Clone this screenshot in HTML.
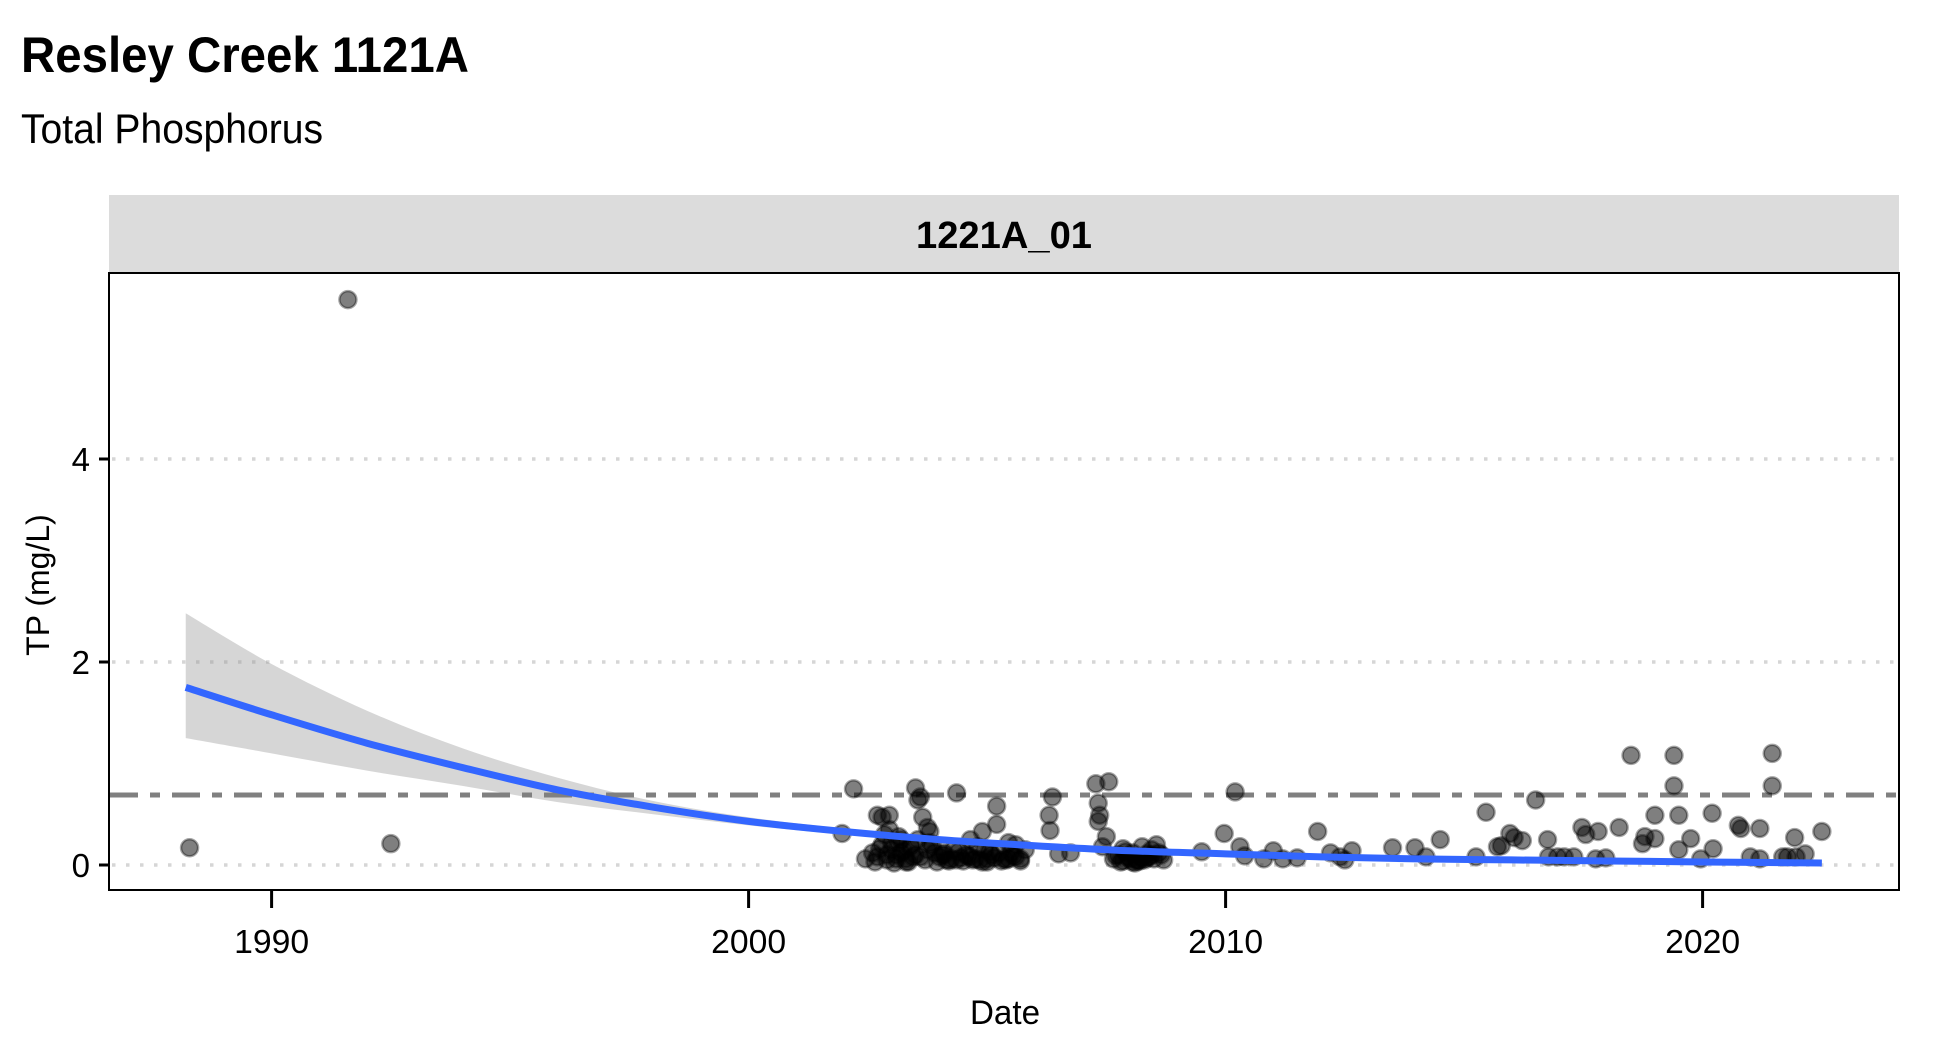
<!DOCTYPE html>
<html><head><meta charset="utf-8"><style>
html,body{margin:0;padding:0;background:#fff;}
svg{display:block;}
text{font-family:"Liberation Sans",sans-serif;}
</style></head>
<body>
<svg id="chart" width="1950" height="1050" viewBox="0 0 1950 1050">
<text x="21" y="72" font-size="50" font-weight="bold" textLength="448" lengthAdjust="spacingAndGlyphs">Resley Creek 1121A</text>
<text x="21" y="143" font-size="42" textLength="302" lengthAdjust="spacingAndGlyphs">Total Phosphorus</text>
<rect x="109" y="195" width="1790" height="78" fill="#dcdcdc"/>
<text x="1004" y="248" font-size="38" font-weight="bold" text-anchor="middle" textLength="176" lengthAdjust="spacingAndGlyphs">1221A_01</text>
<g id="grid"></g>
<g id="band"></g>
<g id="ref"></g>
<g id="pts"></g>
<g id="fit"></g>
<rect x="109" y="273" width="1790" height="617" fill="none" stroke="#000" stroke-width="2"/>
<g id="axes"></g>
<text x="1005" y="1024" font-size="34" text-anchor="middle" textLength="70" lengthAdjust="spacingAndGlyphs">Date</text>
<text transform="translate(49,585) rotate(-90)" font-size="32" text-anchor="middle">TP (mg/L)</text>
</svg>
<script>
const xTicks=[1990,2000,2010,2020];
const yTicks=[0,2,4];
const refValue=0.69;
const ptYears=[1988.28,1991.6,1992.5,2001.96,2002.2,2002.45,2002.7,2002.8,2002.95,2003.5,2003.6,2003.55,2003.65,2003.75,2003.8,2004.36,2004.65,2004.9,2005.2,2005.2,2004.95,2005.45,2006.37,2006.3,2006.32,2006.5,2006.75,2007.28,2007.33,2007.36,2007.33,2007.55,2007.5,2007.42,
2002.6,2002.7,2002.8,2002.9,2003.0,2003.1,2003.2,2003.3,2003.4,2003.5,2003.7,2003.85,2004.0,2004.1,2004.2,2004.3,2004.45,2004.55,2004.7,2004.8,2005.0,2005.1,2005.3,2005.5,2005.6,2005.7,2005.8,2002.85,2003.05,2003.25,2003.45,2003.9,2004.15,2004.6,2005.05,2005.35,2003.15,2003.35,2004.05,2004.75,2005.6,
2002.65,2002.75,2002.9,2003.0,2003.1,2003.2,2003.3,2003.4,2003.6,2003.75,2003.95,2004.1,2004.25,2004.4,2004.5,2004.65,2004.85,2005.0,2005.15,2005.25,2005.4,2005.55,2005.7,2002.95,2003.15,2003.55,2003.8,2004.35,2004.9,2005.45,
2007.65,2007.75,2007.85,2007.95,2008.05,2008.15,2008.25,2008.35,2008.45,2008.55,2008.65,2007.8,2008.0,2008.2,2008.4,2008.6,2008.1,2008.3,2007.7,2007.9,2008.05,2008.25,2008.45,2008.7,2007.85,2008.15,2008.35,2008.5,
2009.5,2009.97,2010.2,2010.3,2010.4,2010.8,2011.0,2011.2,2011.5,2011.93,2012.2,2012.4,2012.5,2012.65,2013.5,2013.97,2014.2,2014.5,2015.25,2015.46,2015.7,2015.78,2015.96,2016.05,2016.22,2016.5,2016.75,2016.77,2016.96,2017.1,2017.3,2017.47,2017.55,2017.76,2017.81,2017.97,2018.25,2018.5,2018.74,2018.79,2019.0,2019.0,2019.4,2019.4,2019.5,2019.5,2019.75,2019.96,2020.2,2020.22,2020.75,2020.8,2021.0,2021.2,2021.2,2021.46,2021.46,2021.68,2021.78,2021.93,2021.96,2022.15,2022.5];
const ptValues=[0.17,5.57,0.21,0.31,0.75,0.06,0.49,0.47,0.49,0.76,0.67,0.64,0.47,0.37,0.33,0.71,0.25,0.33,0.58,0.40,0.15,0.22,0.67,0.49,0.34,0.11,0.12,0.80,0.61,0.49,0.43,0.82,0.28,0.18,
0.12,0.08,0.2,0.05,0.15,0.1,0.25,0.06,0.18,0.1,0.05,0.2,0.08,0.12,0.04,0.15,0.07,0.1,0.05,0.18,0.06,0.1,0.04,0.12,0.08,0.06,0.15,0.3,0.02,0.14,0.08,0.12,0.05,0.09,0.13,0.06,0.22,0.03,0.1,0.06,0.2,
0.03,0.16,0.1,0.22,0.06,0.12,0.03,0.2,0.08,0.15,0.03,0.1,0.06,0.13,0.04,0.08,0.05,0.03,0.07,0.12,0.05,0.09,0.04,0.35,0.28,0.25,0.22,0.05,0.03,0.06,
0.06,0.1,0.04,0.08,0.12,0.05,0.18,0.07,0.15,0.2,0.1,0.03,0.06,0.04,0.08,0.12,0.02,0.05,0.09,0.13,0.03,0.07,0.1,0.05,0.16,0.04,0.11,0.06,
0.13,0.31,0.72,0.18,0.09,0.06,0.14,0.06,0.07,0.33,0.12,0.08,0.05,0.14,0.17,0.17,0.08,0.25,0.08,0.52,0.18,0.19,0.31,0.27,0.24,0.64,0.25,0.08,0.08,0.08,0.08,0.37,0.3,0.06,0.33,0.07,0.37,1.08,0.21,0.28,0.49,0.26,1.08,0.78,0.49,0.15,0.26,0.06,0.51,0.16,0.39,0.36,0.08,0.06,0.36,1.10,0.78,0.08,0.08,0.27,0.08,0.11,0.33];
const fitYears=[1988.2,1990,1992,1994,1996,1998,2000,2002,2004,2006,2008,2010,2012,2014,2016,2018,2020,2022.5];
const fitValues=[1.75,1.48,1.20,0.96,0.74,0.57,0.43,0.33,0.25,0.19,0.14,0.11,0.08,0.06,0.05,0.04,0.03,0.02];
const bandUpper=[2.48,1.98,1.52,1.15,0.86,0.63,0.47,0.36,0.27,0.21,0.16,0.13,0.10,0.08,0.07,0.06,0.05,0.05];
const bandLower=[1.25,1.10,0.93,0.78,0.62,0.50,0.39,0.30,0.23,0.17,0.12,0.09,0.06,0.04,0.03,0.02,0.01,0.00];

const NS='http://www.w3.org/2000/svg';
const xS=y=>271.6+(y-1990)*47.7;
const yS=v=>865-v*101.5;
function mk(tag,attrs,parent){const e=document.createElementNS(NS,tag);for(const k in attrs)e.setAttribute(k,attrs[k]);document.getElementById(parent).appendChild(e);return e;}
function smooth(pts,start){
  let d=start?'M'+pts[0][0]+','+pts[0][1]:'L'+pts[0][0]+','+pts[0][1];
  for(let i=0;i<pts.length-1;i++){
    const p0=pts[Math.max(0,i-1)],p1=pts[i],p2=pts[i+1],p3=pts[Math.min(pts.length-1,i+2)];
    const c1x=p1[0]+(p2[0]-p0[0])/6,c1y=p1[1]+(p2[1]-p0[1])/6;
    const c2x=p2[0]-(p3[0]-p1[0])/6,c2y=p2[1]-(p3[1]-p1[1])/6;
    d+=' C'+c1x+','+c1y+' '+c2x+','+c2y+' '+p2[0]+','+p2[1];
  }
  return d;
}

yTicks.forEach(t=>{
  const g=mk('line',{x1:112,x2:1896,y1:yS(t),y2:yS(t),stroke:'#d6d6d6','stroke-width':3.5,'stroke-dasharray':'3.5 10.5'},'grid');
  
  
  const tk=mk('line',{x1:99,x2:109,y1:yS(t),y2:yS(t),stroke:'#000','stroke-width':3},'axes');
  
  
  const tl=mk('text',{x:90,y:yS(t)+12,'font-size':33,'text-anchor':'end'},'axes');
  tl.textContent=t;
  
  
});
xTicks.forEach(t=>{
  const tk=mk('line',{x1:xS(t),x2:xS(t),y1:890,y2:908,stroke:'#000','stroke-width':3},'axes');
  
  
  const tl=mk('text',{x:xS(t),y:953,'font-size':33,'text-anchor':'middle',textLength:75,lengthAdjust:'spacingAndGlyphs'},'axes');
  tl.textContent=t;
  
  
});
const up=fitYears.map((y,i)=>[xS(y),yS(bandUpper[i])]);
const lo=fitYears.map((y,i)=>[xS(y),yS(bandLower[i])]).reverse();
const band=mk('path',{d:smooth(up,true)+' '+smooth(lo,false)+' Z',fill:'#999','fill-opacity':0.4},'band');


const ref=mk('line',{x1:110,x2:1898,y1:yS(refValue),y2:yS(refValue),stroke:'#808080','stroke-width':5,'stroke-dasharray':'28 12 10 12'},'ref');


ptYears.forEach((y,i)=>{
  const c=mk('circle',{cx:xS(y),cy:yS(ptValues[i]),r:8.5,fill:'rgba(0,0,0,0.5)',stroke:'rgba(0,0,0,0.35)','stroke-width':2.5},'pts');
  
  
});
const fp=fitYears.map((y,i)=>[xS(y),yS(fitValues[i])]);
const fit=mk('path',{d:smooth(fp,true),fill:'none',stroke:'#3366ff','stroke-width':7,'stroke-linejoin':'round'},'fit');


</script>
</body></html>
